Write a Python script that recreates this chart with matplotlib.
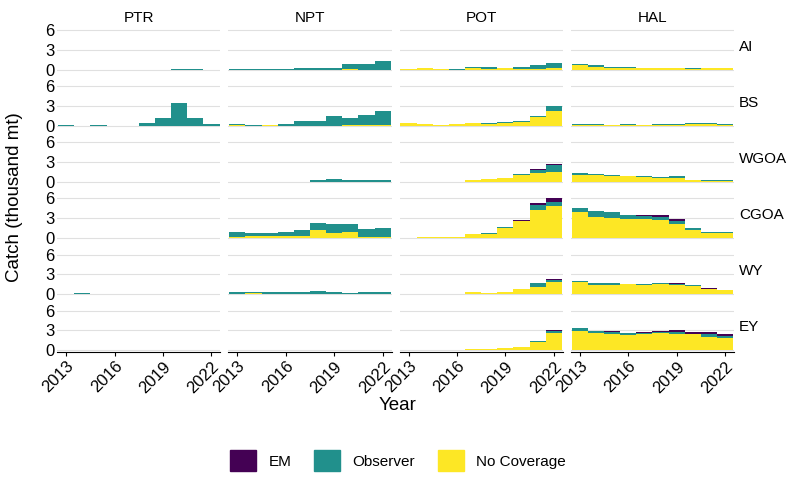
import numpy as np
import matplotlib
matplotlib.use('Agg')
import matplotlib.pyplot as plt
import matplotlib.patches as mpatches

plt.rcParams.update({'font.family': 'Liberation Sans'})

years = np.arange(2013, 2023)
gears = ['PTR', 'NPT', 'POT', 'HAL']
regions = ['AI', 'BS', 'WGOA', 'CGOA', 'WY', 'EY']
Z = [0] * 10

# catch (thousand mt) by coverage type, keyed (region, gear)
no_cov = {
    ('AI', 'PTR'): Z, ('AI', 'NPT'): [0, 0, 0, 0, 0, 0, 0, 0.05, 0, 0],
    ('AI', 'POT'): [0.05, 0.2, 0.05, 0, 0.2, 0.15, 0.2, 0.1, 0.1, 0.25],
    ('AI', 'HAL'): [0.65, 0.35, 0.3, 0.25, 0.2, 0.2, 0.2, 0.15, 0.2, 0.2],
    ('BS', 'PTR'): Z, ('BS', 'NPT'): [0.05, 0, 0.05, 0, 0, 0, 0, 0.05, 0.05, 0.05],
    ('BS', 'POT'): [0.35, 0.2, 0.05, 0.2, 0.35, 0.3, 0.45, 0.6, 1.3, 2.25],
    ('BS', 'HAL'): [0.15, 0.05, 0.05, 0.05, 0.05, 0.05, 0.1, 0.25, 0.25, 0.05],
    ('WGOA', 'PTR'): Z, ('WGOA', 'NPT'): Z,
    ('WGOA', 'POT'): [0, 0, 0, 0, 0.2, 0.35, 0.55, 1.05, 1.35, 1.5],
    ('WGOA', 'HAL'): [1.05, 0.95, 0.8, 0.8, 0.75, 0.55, 0.5, 0.2, 0.15, 0.15],
    ('CGOA', 'PTR'): Z,
    ('CGOA', 'NPT'): [0.1, 0.25, 0.25, 0.25, 0.25, 1.2, 0.7, 0.8, 0.1, 0.1],
    ('CGOA', 'POT'): [0, 0.05, 0.05, 0.05, 0.5, 0.6, 1.5, 2.5, 4.2, 4.8],
    ('CGOA', 'HAL'): [3.9, 3.2, 2.95, 2.8, 2.8, 2.65, 2.15, 1.25, 0.75, 0.75],
    ('WY', 'PTR'): Z, ('WY', 'NPT'): [0, 0.1, 0, 0, 0, 0, 0, 0, 0, 0],
    ('WY', 'POT'): [0, 0, 0, 0, 0.25, 0.05, 0.25, 0.7, 1.1, 1.8],
    ('WY', 'HAL'): [1.8, 1.4, 1.3, 1.45, 1.3, 1.45, 1.35, 1.2, 0.75, 0.5],
    ('EY', 'PTR'): Z, ('EY', 'NPT'): Z,
    ('EY', 'POT'): [0, 0, 0, 0, 0.2, 0.2, 0.25, 0.5, 1.25, 2.5],
    ('EY', 'HAL'): [2.9, 2.55, 2.35, 2.2, 2.4, 2.5, 2.4, 2.35, 1.95, 1.75],
}
observer = {
    ('AI', 'PTR'): [0, 0, 0, 0, 0, 0, 0, 0.1, 0.1, 0],
    ('AI', 'NPT'): [0.1, 0.1, 0.1, 0.1, 0.25, 0.25, 0.25, 0.8, 0.85, 1.3],
    ('AI', 'POT'): [0, 0, 0, 0.1, 0.15, 0.2, 0.05, 0.3, 0.55, 0.7],
    ('AI', 'HAL'): [0.25, 0.3, 0.05, 0.1, 0.05, 0.05, 0, 0.1, 0, 0],
    ('BS', 'PTR'): [0.05, 0, 0.05, 0, 0, 0.4, 1.1, 3.5, 1.1, 0.2],
    ('BS', 'NPT'): [0.15, 0.05, 0, 0.2, 0.65, 0.65, 1.4, 1.1, 1.5, 2.2],
    ('BS', 'POT'): [0, 0, 0, 0, 0.05, 0.1, 0.1, 0.1, 0.2, 0.7],
    ('BS', 'HAL'): [0.1, 0.15, 0, 0.15, 0, 0.15, 0.15, 0.15, 0.1, 0.15],
    ('WGOA', 'PTR'): Z,
    ('WGOA', 'NPT'): [0, 0, 0, 0, 0, 0.2, 0.35, 0.2, 0.2, 0.2],
    ('WGOA', 'POT'): [0, 0, 0, 0, 0, 0, 0, 0.1, 0.5, 1.1],
    ('WGOA', 'HAL'): [0.25, 0.2, 0.2, 0.1, 0.1, 0.15, 0.4, 0, 0.1, 0.1],
    ('CGOA', 'PTR'): Z,
    ('CGOA', 'NPT'): [0.7, 0.5, 0.5, 0.7, 0.95, 1.0, 1.4, 1.25, 1.2, 1.45],
    ('CGOA', 'POT'): [0, 0, 0, 0, 0, 0.05, 0.1, 0.1, 0.85, 0.7],
    ('CGOA', 'HAL'): [0.7, 0.85, 1.0, 0.6, 0.55, 0.45, 0.45, 0.2, 0.05, 0.05],
    ('WY', 'PTR'): [0, 0.08, 0, 0, 0, 0, 0, 0, 0, 0],
    ('WY', 'NPT'): [0.25, 0.1, 0.25, 0.25, 0.25, 0.4, 0.25, 0.1, 0.25, 0.25],
    ('WY', 'POT'): [0, 0, 0, 0, 0, 0, 0, 0, 0.5, 0.3],
    ('WY', 'HAL'): [0.2, 0.2, 0.3, 0.1, 0.2, 0.15, 0.2, 0.1, 0, 0],
    ('EY', 'PTR'): Z, ('EY', 'NPT'): Z,
    ('EY', 'POT'): [0, 0, 0, 0, 0, 0, 0.1, 0, 0.1, 0.35],
    ('EY', 'HAL'): [0.45, 0.3, 0.45, 0.3, 0.2, 0.3, 0.3, 0, 0.4, 0.3],
}
em = {
    ('WGOA', 'POT'): [0, 0, 0, 0, 0, 0, 0, 0, 0.1, 0.1],
    ('CGOA', 'POT'): [0, 0, 0, 0, 0, 0, 0.05, 0.1, 0.3, 0.55],
    ('CGOA', 'HAL'): [0, 0, 0, 0.1, 0.15, 0.3, 0.3, 0.1, 0, 0],
    ('WY', 'POT'): [0, 0, 0, 0, 0, 0, 0, 0, 0.1, 0.15],
    ('WY', 'HAL'): [0, 0, 0.1, 0, 0, 0.1, 0.1, 0, 0.1, 0],
    ('EY', 'POT'): [0, 0, 0, 0, 0, 0, 0, 0, 0, 0.15],
    ('EY', 'HAL'): [0, 0, 0.1, 0, 0.1, 0.1, 0.3, 0.4, 0.3, 0.35],
}

C_EM, C_OBS, C_NC = '#440154', '#21908C', '#FDE725'

fig, axes = plt.subplots(6, 4, figsize=(7.96, 4.92), dpi=100, sharex=True, sharey=True)
fig.subplots_adjust(left=0.072, right=0.922, top=0.945, bottom=0.285, wspace=0.05, hspace=0.26)

for i, reg in enumerate(regions):
    for j, g in enumerate(gears):
        ax = axes[i, j]
        nc = np.array(no_cov.get((reg, g), Z), float)
        ob = np.array(observer.get((reg, g), Z), float)
        e = np.array(em.get((reg, g), Z), float)
        ax.bar(years, nc, width=1, color=C_NC, linewidth=0)
        ax.bar(years, ob, width=1, bottom=nc, color=C_OBS, linewidth=0)
        ax.bar(years, e, width=1, bottom=nc + ob, color=C_EM, linewidth=0)
        ax.set_ylim(-0.3, 6.5)
        ax.set_xlim(2012.45, 2022.55)
        ax.set_yticks([0, 3, 6])
        ax.set_xticks([2013, 2016, 2019, 2022])
        ax.grid(axis='y', color='#e0e0e0', lw=0.8)
        ax.set_axisbelow(True)
        for s in ax.spines.values():
            s.set_visible(False)
        ax.tick_params(length=0, labelsize=12, colors='black', pad=2)
        if i == 5:
            ax.spines['bottom'].set_visible(True)
            ax.spines['bottom'].set_color('black')
            ax.tick_params(axis='x', length=3, rotation=45)
            for lab in ax.get_xticklabels():
                lab.set_ha('right')
                lab.set_rotation_mode('anchor')
        if i == 0:
            ax.set_title(g, fontsize=11, pad=4)
        if j == 3:
            ax.text(1.03, 0.55, reg, transform=ax.transAxes, fontsize=11, va='center', ha='left')

fig.text(0.018, 0.6, 'Catch (thousand mt)', rotation=90, va='center', ha='center', fontsize=13.5)
fig.text(0.5, 0.175, 'Year', ha='center', va='center', fontsize=13.5)

handles = [mpatches.Patch(color=C_EM, label='EM'),
           mpatches.Patch(color=C_OBS, label='Observer'),
           mpatches.Patch(color=C_NC, label='No Coverage')]
fig.legend(handles=handles, loc='lower center', ncol=3, frameon=False, fontsize=11,
           bbox_to_anchor=(0.5, 0.015), handlelength=1.7, handleheight=1.7,
           handletextpad=0.8, columnspacing=1.5)

fig.savefig('out.png', dpi=100)
